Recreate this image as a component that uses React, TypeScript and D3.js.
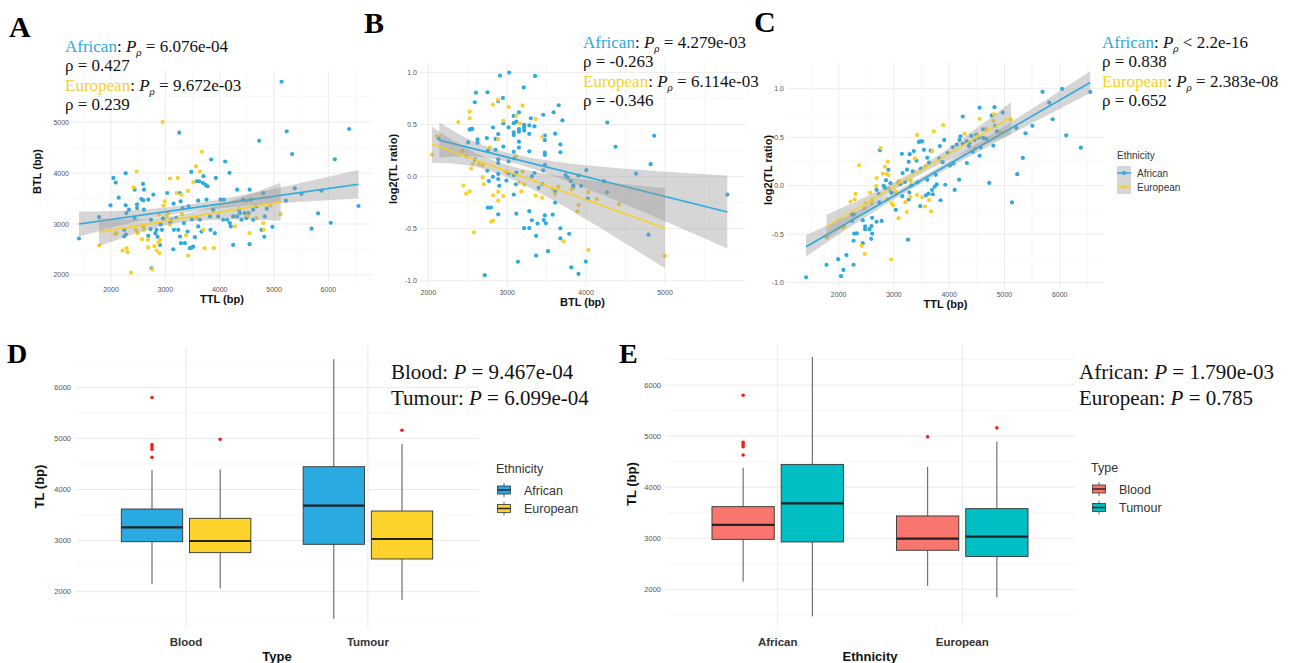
import React from "react";
import * as d3 from "d3";

// paired telomere lengths (bp) per sample
const africanTTL = [1410, 1780, 1990, 2043, 2086, 2141, 2270, 2270, 2282, 2245, 2275, 2240, 2330, 2435, 2435, 2478, 2478, 2557, 2588, 2606, 2594, 2606, 2686, 2778, 2735, 2729, 2686, 2839, 2857, 2912, 2955, 2900, 2747, 2815, 2937, 3035, 3151, 3200, 3268, 3280, 3317, 3237, 3268, 3286, 3145, 3409, 3360, 3452, 3482, 3084, 3157, 3114, 3341, 3427, 3488, 3255, 3476, 3580, 3623, 3702, 3690, 3739, 3776, 3843, 3929, 3604, 3757, 3635, 3604, 3543, 3512, 3665, 3819, 3880, 3972, 3910, 3831, 4100, 4180, 4015, 4076, 4137, 4186, 4204, 4247, 4320, 4370, 4430, 4460, 4320, 4357, 4247, 4400, 4490, 4063, 4725, 4550, 4570, 4533, 4615, 4675, 4800, 4830, 4970, 4820, 4770, 4550, 4615, 4865, 5137, 5232, 5333, 5217, 5382, 5505, 5810, 5690, 5873, 6044, 6118, 6382, 6553];
const africanBTL = [2716, 3136, 3366, 3904, 3812, 3517, 3996, 3366, 3215, 2886, 2794, 2755, 3280, 3674, 3116, 3385, 3313, 3490, 3786, 3674, 3464, 3280, 3477, 3576, 3083, 2900, 2768, 2886, 2748, 2990, 3110, 2590, 2131, 2820, 2886, 3608, 3398, 3116, 3608, 3445, 3313, 2886, 2755, 2624, 2505, 2853, 2624, 2525, 2538, 3018, 2886, 3083, 3018, 3346, 3090, 4790, 4022, 3838, 3838, 3937, 3805, 3766, 3740, 4265, 3904, 3457, 3477, 3083, 2952, 2742, 2558, 2853, 3149, 3280, 3149, 2820, 2886, 4226, 4003, 3477, 3477, 3083, 3018, 2952, 2590, 3674, 3215, 3477, 3215, 3149, 3280, 3149, 3083, 3116, 3083, 4633, 3674, 3477, 3215, 3280, 3346, 3608, 3149, 2945, 2750, 2886, 2604, 3083, 3300, 5790, 4818, 4373, 3457, 3700, 3588, 3210, 2908, 3653, 3025, 4268, 4863, 3353];
const europeanTTL = [1780, 2075, 2104, 2416, 2472, 2214, 2288, 2306, 2367, 2460, 2490, 2882, 2961, 2990, 2839, 2888, 2870, 2686, 2680, 2570, 2594, 2900, 2797, 2606, 2760, 2949, 3231, 3084, 3206, 3298, 3415, 3023, 3084, 3421, 3304, 3378, 3047, 3561, 3635, 3512, 3672, 3696, 3721, 3892, 3574, 4480, 4278, 4510, 4675, 4800, 4932, 4812, 4550, 5120];
const europeanBTL = [2578, 2800, 2820, 3714, 4029, 2480, 2525, 2447, 2046, 2886, 2820, 3180, 3360, 3445, 2480, 2430, 2640, 2545, 2690, 2703, 2952, 2690, 2565, 2886, 2110, 5000, 3904, 3891, 3608, 3576, 3648, 3149, 2985, 2380, 3195, 2781, 3215, 4134, 4029, 3818, 4416, 2886, 2525, 2525, 3116, 3445, 2952, 3162, 3116, 3018, 3360, 2886, 2820, 3195];

// fitted lm lines and 95% bands: [x, y] ends, band [x, low, high]
const fitsA = [
  { group: "African", line: [[1410, 3000], [6553, 3780]], band: [[1410, 2750, 3240], [3500, 3245, 3390], [6553, 3500, 4060]] },
  { group: "European", line: [[1780, 2840], [5120, 3430]], band: [[1780, 2560, 3110], [3300, 3030, 3185], [5120, 3065, 3810]] },
];
const fitsB = [
  { group: "African", line: [[2140, 0.35], [5790, -0.34]], band: [[2140, 0.18, 0.52], [3300, 0.08, 0.18], [5790, -0.69, 0.01]] },
  { group: "European", line: [[2046, 0.31], [5000, -0.495]], band: [[2046, 0.13, 0.48], [3100, -0.04, 0.09], [5000, -0.88, -0.11]] },
];
const fitsC = [
  { group: "African", line: [[1410, -0.63], [6553, 1.065]], band: [[1410, -0.73, -0.51], [3500, 0.025, 0.09], [6553, 0.955, 1.18]] },
  { group: "European", line: [[1780, -0.42], [5120, 0.707]], band: [[1780, -0.56, -0.3], [3400, 0.09, 0.165], [5120, 0.53, 0.86]] },
];

const ethnicities = ["African", "European"];
const tissueTypes = ["Blood", "Tumour"];
// box stats, order: Blood-African, Blood-European, Tumour-African, Tumour-European
const boxKeys = [["Blood", "African"], ["Blood", "European"], ["Tumour", "African"], ["Tumour", "European"]];
const boxLow = [2150, 2066, 1470, 1838];
const boxQ1 = [2978, 2764, 2927, 2640];
const boxMedian = [3260, 2992, 3683, 3031];
const boxQ3 = [3618, 3436, 4446, 3579];
const boxHigh = [4380, 4395, 6550, 4890];
const boxOutliers = [[5800, 4880, 4840, 4790, 4630], [4985], [], [5160]];

const statsA = ["= 6.076e-04", "0.427", "= 9.672e-03", "0.239"];
const statsB = ["= 4.279e-03", "-0.263", "= 6.114e-03", "-0.346"];
const statsC = ["< 2.2e-16", "0.838", "= 2.383e-08", "0.652"];
const statsD = [["Blood", "= 9.467e-04"], ["Tumour", "= 6.099e-04"]];
const statsE = [["African", "= 1.790e-03"], ["European", "= 0.785"]];

const ethColor: Record<string, string> = { African: "#2EAADF", European: "#F7D02C" };
const boxEthColor: Record<string, string> = { African: "#29ABE2", European: "#FDD22A" };
const typeColor: Record<string, string> = { Blood: "#F8766D", Tumour: "#00BFC4" };

const serif = "'Liberation Serif', 'Times New Roman', serif";
const sans = "'Liberation Sans', Arial, sans-serif";
const gridMajor = "#EAEAEA";
const gridMinor = "#F4F4F4";

const fmt0 = (v: number) => String(v);
const fmt1 = (v: number) => v.toFixed(1);

function ScatterPanel({ pts, xDomain, yDomain, box, xTicks, yTicks, xMinor, yMinor, fits, xTitle, yTitle, yFmt }: any) {
  const x = d3.scaleLinear().domain(xDomain).range([box.x0, box.x1]);
  const y = d3.scaleLinear().domain(yDomain).range([box.y1, box.y0]);
  const area = d3.area<number[]>().x(d => x(d[0])).y0(d => y(d[1])).y1(d => y(d[2])).curve(d3.curveNatural);
  const line = d3.line<number[]>().x(d => x(d[0])).y(d => y(d[1]));
  return (
    <g>
      {xMinor.map((v: number) => <line key={"xm" + v} x1={x(v)} x2={x(v)} y1={box.y0} y2={box.y1} stroke={gridMinor} strokeWidth={0.6} />)}
      {yMinor.map((v: number) => <line key={"ym" + v} x1={box.x0} x2={box.x1} y1={y(v)} y2={y(v)} stroke={gridMinor} strokeWidth={0.6} />)}
      {xTicks.map((v: number) => <line key={"xt" + v} x1={x(v)} x2={x(v)} y1={box.y0} y2={box.y1} stroke={gridMajor} strokeWidth={0.9} />)}
      {yTicks.map((v: number) => <line key={"yt" + v} x1={box.x0} x2={box.x1} y1={y(v)} y2={y(v)} stroke={gridMajor} strokeWidth={0.9} />)}
      {xTicks.map((v: number) => (
        <text key={"xl" + v} x={x(v)} y={box.y1 + 8.5} textAnchor="middle" fontFamily={sans} fontSize={7} fill="#555">{fmt0(v)}</text>
      ))}
      {yTicks.map((v: number) => (
        <text key={"yl" + v} x={box.x0 - 3} y={y(v) + 2.5} textAnchor="end" fontFamily={sans} fontSize={7} fill="#555">{yFmt(v)}</text>
      ))}
      {pts.map((p: any, i: number) => (
        <circle key={"p" + i} cx={x(p[0])} cy={y(p[1])} r={2.1} fill={ethColor[p[2]]} />
      ))}
      {fits.map((f: any) => (
        <g key={f.group}>
          <path d={area(f.band) || ""} fill="#999" fillOpacity={0.4} />
          <path d={line(f.line) || ""} stroke={ethColor[f.group]} strokeWidth={1.7} fill="none" />
        </g>
      ))}
      <text x={(box.x0 + box.x1) / 2} y={box.y1 + 20} textAnchor="middle" fontFamily={sans} fontWeight="bold" fontSize={11} fill="#111">{xTitle}</text>
      <text transform={`translate(${box.yTitleX},${(box.y0 + box.y1) / 2 - 5}) rotate(-90)`} textAnchor="middle" fontFamily={sans} fontWeight="bold" fontSize={11} fill="#111">{yTitle}</text>
    </g>
  );
}

function RhoBlock({ x, y, stats }: any) {
  const fs = 17;
  const pl = (label: string, value: string, yy: number) => (
    <text x={x} y={yy} fontFamily={serif} fontSize={fs} fill="#111">
      <tspan fill={ethColor[label]}>{label}</tspan>
      <tspan>: </tspan>
      <tspan fontStyle="italic">P</tspan>
      <tspan fontStyle="italic" fontSize={11} dy={4}>ρ</tspan>
      <tspan dy={-4}>{" " + value}</tspan>
    </text>
  );
  return (
    <g>
      {pl("African", stats[0], y)}
      <text x={x} y={y + 19} fontFamily={serif} fontSize={fs} fill="#111">{"ρ = " + stats[1]}</text>
      {pl("European", stats[2], y + 39)}
      <text x={x} y={y + 58} fontFamily={serif} fontSize={fs} fill="#111">{"ρ = " + stats[3]}</text>
    </g>
  );
}

function BoxPanel({ outer, inner, fillOf, box, xTitle, statLines, statX, yRange }: any) {
  const x = d3.scalePoint().domain(outer).range([box.x0, box.x1]).padding(0.6);
  const step = x.step();
  const dodge = d3.scaleBand().domain(inner).range([-step * 0.375, step * 0.375]);
  const bw = dodge.bandwidth() * 0.9;
  const y = d3.scaleLinear().domain([1195, 6805]).range(yRange);
  const majors = [2000, 3000, 4000, 5000, 6000];
  const minors = [1500, 2500, 3500, 4500, 5500, 6500];
  const top = y(6805), bottom = y(1195);
  return (
    <g>
      {minors.map(v => <line key={"m" + v} x1={box.x0 - 1} x2={box.x1 + 2} y1={y(v)} y2={y(v)} stroke={gridMinor} strokeWidth={0.7} />)}
      {majors.map(v => <line key={"M" + v} x1={box.x0 - 1} x2={box.x1 + 2} y1={y(v)} y2={y(v)} stroke={gridMajor} strokeWidth={1} />)}
      {outer.map((c: string) => <line key={"v" + c} x1={x(c)} x2={x(c)} y1={top} y2={bottom - 5} stroke={gridMajor} strokeWidth={1} />)}
      {majors.map(v => (
        <text key={"t" + v} x={box.x0 - 6} y={y(v) + 2.7} textAnchor="end" fontFamily={sans} fontSize={7.5} fill="#555">{v}</text>
      ))}
      {outer.map((c: string) => (
        <text key={"c" + c} x={x(c)} y={646} textAnchor="middle" fontFamily={sans} fontWeight="bold" fontSize={11.5} fill="#333">{c}</text>
      ))}
      {boxKeys.map((k, i) => {
        const [type, eth] = k;
        const o = outer.includes(type) ? type : eth;
        const n = o === type ? eth : type;
        const cx = (x(o) as number) + (dodge(n) as number) + dodge.bandwidth() / 2;
        return (
          <g key={i}>
            <line x1={cx} x2={cx} y1={y(boxHigh[i])} y2={y(boxQ3[i])} stroke="#555" strokeWidth={1} />
            <line x1={cx} x2={cx} y1={y(boxQ1[i])} y2={y(boxLow[i])} stroke="#555" strokeWidth={1} />
            <rect x={cx - bw / 2} y={y(boxQ3[i])} width={bw} height={y(boxQ1[i]) - y(boxQ3[i])} fill={fillOf(type, eth)} stroke="#333" strokeWidth={0.9} />
            <line x1={cx - bw / 2} x2={cx + bw / 2} y1={y(boxMedian[i])} y2={y(boxMedian[i])} stroke="#222" strokeWidth={2.2} />
            {boxOutliers[i].map((v, j) => <circle key={j} cx={cx} cy={y(v)} r={1.8} fill="#F0201A" />)}
          </g>
        );
      })}
      <text x={(box.x0 + box.x1) / 2} y={661} textAnchor="middle" fontFamily={sans} fontWeight="bold" fontSize={13} fill="#111">{xTitle}</text>
      <text transform={`translate(${box.yTitleX},${(top + bottom) / 2 - 3}) rotate(-90)`} textAnchor="middle" fontFamily={sans} fontWeight="bold" fontSize={13} fill="#111">TL (bp)</text>
      {statLines.map((s: string[], i: number) => (
        <text key={"s" + i} x={statX} y={379 + i * 26} fontFamily={serif} fontSize={21} fill="#111">
          {s[0] + ": "}
          <tspan fontStyle="italic">P</tspan>
          {" " + s[1]}
        </text>
      ))}
    </g>
  );
}

function BoxLegend({ x, y, title, items, colorOf }: any) {
  const k = 16;
  return (
    <g fontFamily={sans}>
      <text x={x} y={y} fontSize={12.5} fill="#333">{title}</text>
      {items.map((it: string, i: number) => {
        const ky = y + 9 + i * 18.5;
        return (
          <g key={it}>
            <line x1={x + k / 2} x2={x + k / 2} y1={ky + 1} y2={ky + k - 1} stroke="#555" strokeWidth={0.9} />
            <rect x={x + 1.5} y={ky + 4} width={k - 3} height={k - 8} fill={colorOf(it)} stroke="#333" strokeWidth={0.8} />
            <line x1={x + 1.5} x2={x + k - 1.5} y1={ky + k / 2} y2={ky + k / 2} stroke="#222" strokeWidth={1.4} />
            <text x={x + 28} y={ky + 12.5} fontSize={12.5} fill="#333">{it}</text>
          </g>
        );
      })}
    </g>
  );
}

export default function App() {
  const ptsA: any[] = [];
  const ptsB: any[] = [];
  const ptsC: any[] = [];
  const add = (ttl: number[], btl: number[], g: string) => {
    ttl.forEach((t, i) => {
      const b = btl[i];
      const r = Math.log2(t / b);
      ptsA.push([t, b, g]);
      ptsB.push([b, r, g]);
      ptsC.push([t, r, g]);
    });
  };
  add(africanTTL, africanBTL, "African");
  add(europeanTTL, europeanBTL, "European");

  const half = [1500, 2500, 3500, 4500, 5500, 6500];
  const ratioTicks = [-1, -0.5, 0, 0.5, 1];
  const ratioMinor = [-0.75, -0.25, 0.25, 0.75];

  return (
    <svg width={1293} height={663} style={{ position: "absolute", left: 0, top: 0, background: "#fff" }}>
      <rect width={1293} height={663} fill="#fff" />
      <ScatterPanel
        pts={ptsA} xDomain={[1282, 6802]} yDomain={[1843, 6020]}
        box={{ x0: 72, x1: 372, y0: 70, y1: 283, yTitleX: 41 }}
        xTicks={[2000, 3000, 4000, 5000, 6000]} yTicks={[2000, 3000, 4000, 5000]}
        xMinor={half} yMinor={[2500, 3500, 4500, 5500]}
        fits={fitsA} xTitle="TTL (bp)" yTitle="BTL (bp)" yFmt={fmt0}
      />
      <ScatterPanel
        pts={ptsB} xDomain={[1895, 6014]} yDomain={[-1.05, 1.1]}
        box={{ x0: 420, x1: 745, y0: 62, y1: 286, yTitleX: 397 }}
        xTicks={[2000, 3000, 4000, 5000]} yTicks={ratioTicks}
        xMinor={[2500, 3500, 4500, 5500]} yMinor={ratioMinor}
        fits={fitsB} xTitle="BTL (bp)" yTitle="log2(TL ratio)" yFmt={fmt1}
      />
      <ScatterPanel
        pts={ptsC} xDomain={[1065, 6802]} yDomain={[-1.056, 1.276]}
        box={{ x0: 787, x1: 1104, y0: 62, y1: 288, yTitleX: 772 }}
        xTicks={[2000, 3000, 4000, 5000, 6000]} yTicks={ratioTicks}
        xMinor={half} yMinor={ratioMinor}
        fits={fitsC} xTitle="TTL (bp)" yTitle="log2(TL ratio)" yFmt={fmt1}
      />

      <RhoBlock x={65} y={52} stats={statsA} />
      <RhoBlock x={583} y={48} stats={statsB} />
      <RhoBlock x={1102} y={48} stats={statsC} />

      {/* legend of panel C */}
      <g fontFamily={sans}>
        <text x={1117} y={159} fontSize={10} fill="#333">Ethnicity</text>
        {ethnicities.map((e, i) => {
          const ky = 166 + i * 14;
          return (
            <g key={e}>
              <rect x={1117} y={ky} width={14} height={14} fill="#999" fillOpacity={0.4} />
              <line x1={1117} x2={1131} y1={ky + 7} y2={ky + 7} stroke={ethColor[e]} strokeWidth={1.5} />
              <circle cx={1124} cy={ky + 7} r={2} fill={ethColor[e]} />
              <text x={1137} y={ky + 10.5} fontSize={10} fill="#333">{e}</text>
            </g>
          );
        })}
      </g>

      <BoxPanel
        outer={tissueTypes} inner={ethnicities}
        fillOf={(t: string, e: string) => boxEthColor[e]}
        box={{ x0: 77, x1: 477, yTitleX: 44 }} yRange={[632.8, 346.2]}
        xTitle="Type" statLines={statsD} statX={391}
      />
      <BoxLegend x={496} y={473} title="Ethnicity" items={ethnicities} colorOf={(e: string) => boxEthColor[e]} />

      <BoxPanel
        outer={ethnicities} inner={tissueTypes}
        fillOf={(t: string) => typeColor[t]}
        box={{ x0: 667, x1: 1073, yTitleX: 636 }} yRange={[630.4, 343.9]}
        xTitle="Ethnicity" statLines={statsE} statX={1079}
      />
      <BoxLegend x={1091} y={472} title="Type" items={tissueTypes} colorOf={(t: string) => typeColor[t]} />

      <g fontFamily={serif} fontWeight="bold" fill="#000">
        <text x={9} y={37} fontSize={30}>A</text>
        <text x={364} y={33} fontSize={30}>B</text>
        <text x={754} y={32} fontSize={30}>C</text>
        <text x={7} y={363} fontSize={28}>D</text>
        <text x={619} y={363} fontSize={28}>E</text>
      </g>
    </svg>
  );
}
